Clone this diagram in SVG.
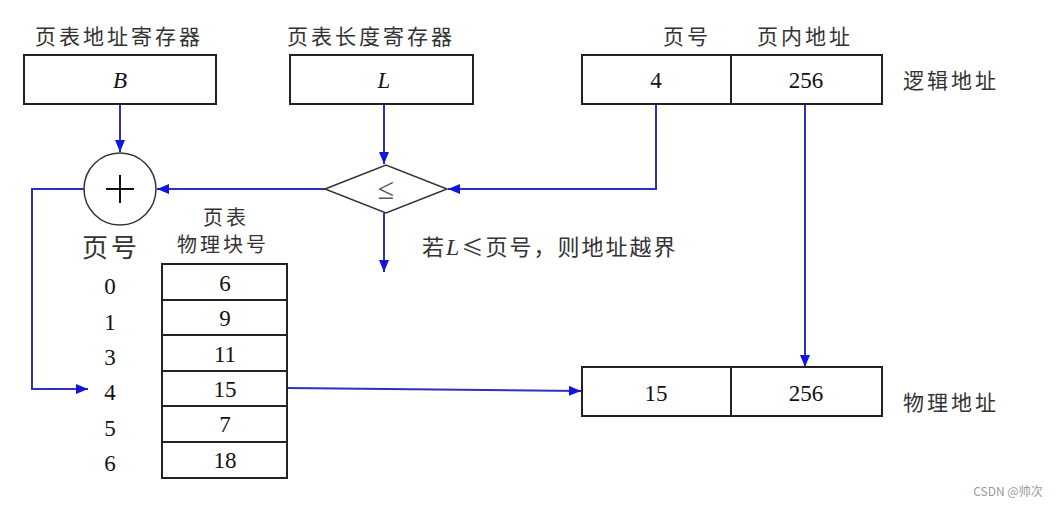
<svg xmlns="http://www.w3.org/2000/svg" width="1056" height="506" viewBox="0 0 1056 506">
<defs>
<marker id="ah" viewBox="0 0 12 10" refX="12" refY="5" markerWidth="12" markerHeight="10" markerUnits="userSpaceOnUse" orient="auto">
<path d="M0,0 L12,5 L0,10 Z" fill="#1414e0"/>
</marker>
<style>
.box{fill:#fff;stroke:#222;stroke-width:2}
.cn{font-family:"Noto Sans CJK SC","Liberation Serif",sans-serif;font-size:21px;fill:#333;letter-spacing:3px}
.num{font-family:"Liberation Serif","Noto Sans CJK SC",serif;font-size:23px;fill:#111;text-anchor:middle}
.it{font-style:italic}
.st{text-anchor:start}
.ln{fill:none;stroke:#3030c0;stroke-width:2}
</style>
</defs>
<rect width="1056" height="506" fill="#fff"/>

<g id="connectors">
<path class="ln" d="M120,104 V152" marker-end="url(#ah)"/>
<path class="ln" d="M384,104 V164" marker-end="url(#ah)"/>
<path class="ln" d="M656,104 V189 H448" marker-end="url(#ah)"/>
<path class="ln" d="M325,189 H157" marker-end="url(#ah)"/>
<path class="ln" d="M84,189 H32 V389 H88" marker-end="url(#ah)"/>
<path class="ln" d="M384,213 V272" marker-end="url(#ah)"/>
<path class="ln" d="M805,104 V367" marker-end="url(#ah)"/>
<path class="ln" d="M287,388 L581,391" marker-end="url(#ah)"/>
</g>

<g id="base-register">
<text class="cn st" x="35" y="44">页表地址寄存器</text>
<rect class="box" x="24" y="55" width="192" height="49"/>
<text class="num it" x="120" y="88">B</text>
</g>

<g id="length-register">
<text class="cn st" x="287" y="44">页表长度寄存器</text>
<rect class="box" x="290" y="55" width="183" height="49"/>
<text class="num it" x="384" y="88">L</text>
</g>

<g id="logical-address">
<text class="cn st" x="663" y="44">页号</text>
<text class="cn st" x="757" y="44">页内地址</text>
<rect class="box" x="582" y="55" width="300" height="49"/>
<line x1="731" y1="55" x2="731" y2="104" stroke="#222" stroke-width="2"/>
<text class="num" x="656" y="88">4</text>
<text class="num" x="806" y="88">256</text>
<text class="cn st" x="903" y="88">逻辑地址</text>
</g>

<g id="adder">
<circle cx="120" cy="189" r="36" fill="#fff" stroke="#333" stroke-width="1.5"/>
<path d="M106,189 H134 M120,175 V203" stroke="#111" stroke-width="2"/>
<text class="cn st" x="82" y="257" style="font-size:26px;letter-spacing:3px">页号</text>
</g>

<g id="compare">
<polygon points="325,189 386,165 447,189 386,213" fill="#fff" stroke="#333" stroke-width="1.5"/>
<text class="num" x="386" y="199" style="fill:#555;font-size:30px">≤</text>
<text class="cn st" x="422" y="255" style="font-size:22px;letter-spacing:2px">若<tspan style="font-family:'Liberation Serif',serif;font-style:italic;font-size:24px">L</tspan>≤页号，则地址越界</text>
</g>

<g id="page-table">
<text class="cn st" x="203" y="225" style="font-size:20px">页表</text>
<text class="cn st" x="177" y="252" style="font-size:20px">物理块号</text>
<rect class="box" x="162" y="264" width="125" height="36"/>
<rect class="box" x="162" y="300" width="125" height="35"/>
<rect class="box" x="162" y="335" width="125" height="36"/>
<rect class="box" x="162" y="371" width="125" height="35"/>
<rect class="box" x="162" y="406" width="125" height="36"/>
<rect class="box" x="162" y="442" width="125" height="36"/>
<text class="num" x="225" y="291">6</text>
<text class="num" x="225" y="326">9</text>
<text class="num" x="225" y="362">11</text>
<text class="num" x="225" y="397">15</text>
<text class="num" x="225" y="432">7</text>
<text class="num" x="225" y="468">18</text>
<text class="num" x="110" y="294">0</text>
<text class="num" x="110" y="330">1</text>
<text class="num" x="110" y="365">3</text>
<text class="num" x="110" y="400">4</text>
<text class="num" x="110" y="436">5</text>
<text class="num" x="110" y="471">6</text>
</g>

<g id="physical-address">
<rect class="box" x="582" y="367" width="300" height="49"/>
<line x1="731" y1="367" x2="731" y2="416" stroke="#222" stroke-width="2"/>
<text class="num" x="656" y="401">15</text>
<text class="num" x="806" y="401">256</text>
<text class="cn st" x="903" y="410">物理地址</text>
</g>

<text x="1008" y="496" style="font-family:'Noto Sans CJK SC',sans-serif;font-size:12px;fill:#999;text-anchor:middle">CSDN @帅次</text>
</svg>
